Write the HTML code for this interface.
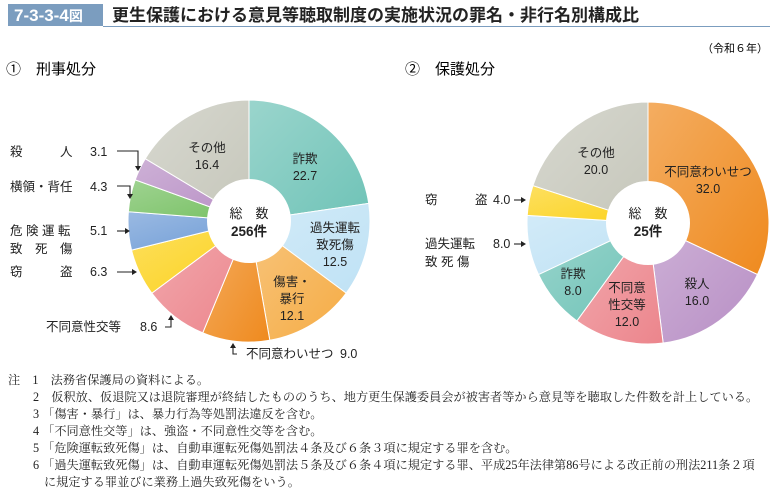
<!DOCTYPE html>
<html><head><meta charset="utf-8"><style>
body{margin:0;width:778px;height:495px;background:#fff;overflow:hidden;font-family:"Liberation Sans","Noto Sans CJK JP",sans-serif;color:#222}
svg{position:absolute;left:0;top:0}
.n{position:absolute;left:0;font-family:"Liberation Serif","Noto Serif CJK SC",serif;font-size:12.2px;line-height:17px;white-space:nowrap}
</style></head><body>
<svg width="778" height="495" xmlns="http://www.w3.org/2000/svg" font-family="Liberation Sans, Noto Sans CJK JP, sans-serif">
<defs>
<linearGradient id="sh" x1="0" y1="0" x2="1" y2="1"><stop offset="0" stop-color="#fff" stop-opacity=".3"/><stop offset="1" stop-color="#fff" stop-opacity="0"/></linearGradient>
</defs>
<rect x="8" y="4" width="95" height="22" fill="#7b9dbf"/>
<text x="14" y="21" font-size="17" font-weight="bold" fill="#fff">7-3-3-4<tspan font-size="14">図</tspan></text>
<text x="112" y="21" font-size="17" font-weight="bold" fill="#222">更生保護における意見等聴取制度の実施状況の罪名・非行名別構成比</text>
<line x1="103" y1="26.5" x2="770" y2="26.5" stroke="#7b9dbf" stroke-width="1"/>
<text x="768" y="52" font-size="11" text-anchor="end">（令和６年）</text>
<text x="6" y="74" font-size="15">①　刑事処分</text>
<text x="405" y="74" font-size="15">②　保護処分</text>
<g id="p1"></g><g id="p2"></g>
<g font-size="12.5" fill="#222" text-anchor="middle">
<text x="305" y="163">詐欺</text><text x="305" y="180">22.7</text>
<text x="335" y="232">過失運転</text><text x="335" y="249">致死傷</text><text x="335" y="266">12.5</text>
<text x="292" y="286">傷害・</text><text x="292" y="303">暴行</text><text x="292" y="320">12.1</text>
<text x="207" y="152">その他</text><text x="207" y="169">16.4</text>
<text x="249" y="218" font-size="13">総　数</text><text x="249" y="236" font-size="13.5" font-weight="bold">256件</text>
<text x="708" y="176">不同意わいせつ</text><text x="708" y="193">32.0</text>
<text x="697" y="288">殺人</text><text x="697" y="305">16.0</text>
<text x="627" y="292">不同意</text><text x="627" y="309">性交等</text><text x="627" y="326">12.0</text>
<text x="573" y="278">詐欺</text><text x="573" y="295">8.0</text>
<text x="596" y="157">その他</text><text x="596" y="174">20.0</text>
<text x="648" y="218" font-size="13">総　数</text><text x="648" y="236" font-size="13.5" font-weight="bold">25件</text>
</g>
<g font-size="12.5" fill="#222">
<text x="10" y="156">殺　　　人</text><text x="90" y="156">3.1</text>
<text x="10" y="191">横領・背任</text><text x="90" y="191">4.3</text>
<text x="10" y="235">危 険 運 転</text><text x="90" y="235">5.1</text>
<text x="10" y="253">致　死　傷</text>
<text x="10" y="276">窃　　　盗</text><text x="90" y="276">6.3</text>
<text x="46" y="331">不同意性交等</text><text x="140" y="331">8.6</text>
<text x="246" y="358">不同意わいせつ</text><text x="340" y="358">9.0</text>
<text x="425" y="204">窃　　　盗</text><text x="493" y="204">4.0</text>
<text x="425" y="248">過失運転</text><text x="493" y="248">8.0</text>
<text x="425" y="266">致 死 傷</text>
</g>
<g stroke="#222" stroke-width="1.1" fill="none">
<path d="M117 151H138V168"/><path d="M117 186H130V196"/><path d="M117 231H126"/><path d="M117 272H134"/><path d="M165 327H171V318"/><path d="M237 354H233V346"/>
<path d="M514 200H522"/><path d="M514 244H522"/>
</g>
<g fill="#222">
<path d="M135 166h6l-3 5z"/><path d="M127 194h6l-3 5z"/><path d="M125 228v6l5-3z"/><path d="M132 269v6l5-3z"/><path d="M168 320h6l-3-5z"/><path d="M230 348h6l-3-5z"/>
<path d="M521 197v6l5-3z"/><path d="M521 241v6l5-3z"/>
</g>
</svg>
<div class="n" style="top:372px;left:8px">注　1　法務省保護局の資料による。</div>
<div class="n" style="top:389px;left:33px">2　仮釈放、仮退院又は退院審理が終結したもののうち、地方更生保護委員会が被害者等から意見等を聴取した件数を計上している。</div>
<div class="n" style="top:406px;left:33px">3 「傷害・暴行」は、暴力行為等処罰法違反を含む。</div>
<div class="n" style="top:423px;left:33px">4 「不同意性交等」は、強盗・不同意性交等を含む。</div>
<div class="n" style="top:440px;left:33px">5 「危険運転致死傷」は、自動車運転死傷処罰法４条及び６条３項に規定する罪を含む。</div>
<div class="n" style="top:457px;left:33px">6 「過失運転致死傷」は、自動車運転死傷処罰法５条及び６条４項に規定する罪、平成25年法律第86号による改正前の刑法211条２項</div>
<div class="n" style="top:474px;left:44px">に規定する罪並びに業務上過失致死傷をいう。</div>
<script>
function pie(id,cx,cy,r,ri,data){
 var g=document.getElementById(id),tot=0,s="";data.forEach(d=>tot+=d[0]);
 var a=-Math.PI/2;
 data.forEach(d=>{var b=a+d[0]/tot*2*Math.PI,l=(b-a)>Math.PI?1:0;
  var p="M"+cx+" "+cy+"L"+(cx+r*Math.cos(a))+" "+(cy+r*Math.sin(a))+"A"+r+" "+r+" 0 "+l+" 1 "+(cx+r*Math.cos(b))+" "+(cy+r*Math.sin(b))+"Z";
  s+='<path d="'+p+'" fill="'+d[1]+'" stroke="#fff" stroke-width="1"/><path d="'+p+'" fill="url(#sh)"/>';a=b;});
 s+='<circle cx="'+cx+'" cy="'+cy+'" r="'+ri+'" fill="#fff"/>';
 g.innerHTML=s;}
pie("p1",249,221,121,42,[[22.7,"#6fc3b7"],[12.5,"#bfe2f5"],[12.1,"#f5ac45"],[9,"#ef8a1e"],[8.6,"#ec858c"],[6.3,"#fcd21c"],[5.1,"#6f9cd6"],[4.3,"#76c062"],[3.1,"#b88fc5"],[16.4,"#c6c7bb"]]);
pie("p2",648,223,121,42,[[32,"#ef8a1e"],[16,"#b88fc5"],[12,"#ec858c"],[8,"#6fc3b7"],[8,"#bfe2f5"],[4,"#fcd21c"],[20,"#c6c7bb"]]);
</script>
</body></html>
